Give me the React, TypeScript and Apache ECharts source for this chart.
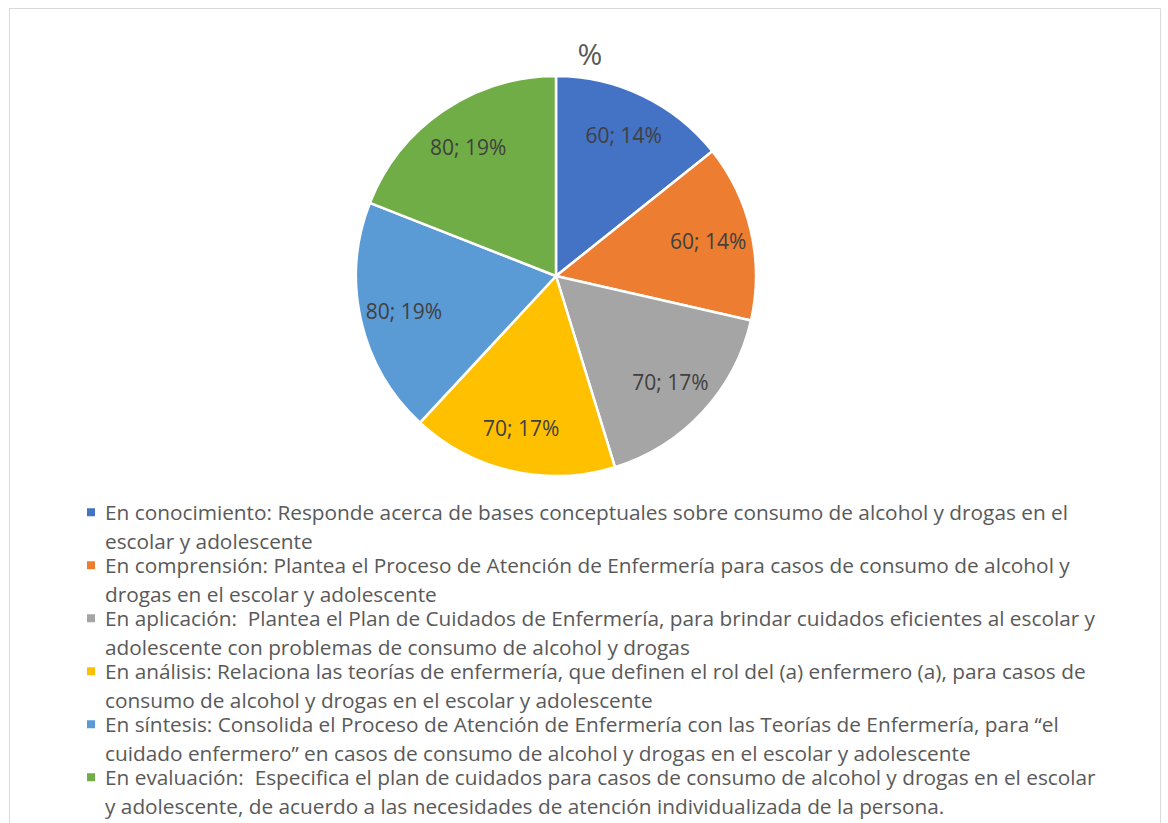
import React, { useEffect, useRef } from "react";
import * as echarts from "echarts";

const categories = [
  "En conocimiento: Responde acerca de bases conceptuales sobre consumo de alcohol y drogas en el escolar y adolescente",
  "En comprensión: Plantea el Proceso de Atención de Enfermería para casos de consumo de alcohol y drogas en el escolar y adolescente",
  "En aplicación:  Plantea el Plan de Cuidados de Enfermería, para brindar cuidados eficientes al escolar y adolescente con problemas de consumo de alcohol y drogas",
  "En análisis: Relaciona las teorías de enfermería, que definen el rol del (a) enfermero (a), para casos de consumo de alcohol y drogas en el escolar y adolescente",
  "En síntesis: Consolida el Proceso de Atención de Enfermería con las Teorías de Enfermería, para “el cuidado enfermero” en casos de consumo de alcohol y drogas en el escolar y adolescente",
  "En evaluación:  Especifica el plan de cuidados para casos de consumo de alcohol y drogas en el escolar y adolescente, de acuerdo a las necesidades de atención individualizada de la persona.",
];
// where each legend entry wraps onto its second line
const legendLine1 = [
  "En conocimiento: Responde acerca de bases conceptuales sobre consumo de alcohol y drogas en el",
  "En comprensión: Plantea el Proceso de Atención de Enfermería para casos de consumo de alcohol y",
  "En aplicación:  Plantea el Plan de Cuidados de Enfermería, para brindar cuidados eficientes al escolar y",
  "En análisis: Relaciona las teorías de enfermería, que definen el rol del (a) enfermero (a), para casos de",
  "En síntesis: Consolida el Proceso de Atención de Enfermería con las Teorías de Enfermería, para “el",
  "En evaluación:  Especifica el plan de cuidados para casos de consumo de alcohol y drogas en el escolar",
];
const values = [60, 60, 70, 70, 80, 80];
const colors = ["#4472C4", "#ED7D31", "#A5A5A5", "#FFC000", "#5B9BD5", "#70AD47"];
const title = "%";

const FONT = "'Open Sans', sans-serif";

export default function App() {
  const ref = useRef<HTMLDivElement>(null);
  useEffect(() => {
    if (!ref.current) return;
    const chart = echarts.init(ref.current, undefined, { renderer: "svg" });
    const data = categories.map((name, i) => ({ name, value: values[i] }));
    const lh = 28.5;
    const iconH = lh + 8;
    chart.setOption({
      animation: false,
      color: colors,
      title: {
        text: title,
        left: 585,
        top: 33,
        textAlign: "center",
        textStyle: { fontFamily: FONT, fontSize: 30, fontWeight: "normal", color: "#595959" },
      },
      legend: {
        orient: "vertical",
        left: 87,
        top: 498,
        padding: 0,
        itemGap: -4,
        itemWidth: 8,
        itemHeight: iconH,
        icon: `path://M0,0h8v8h-8z M0,${iconH}L0,${iconH}`,
        itemStyle: { borderWidth: 0 },
        selectedMode: false,
        data: categories,
        formatter: (name: string) => {
          const i = categories.indexOf(name);
          const l1 = legendLine1[i];
          const l2 = name.slice(l1.length).trim();
          return l1 + "\n" + l2;
        },
        textStyle: {
          fontFamily: FONT,
          fontSize: 20.8,
          color: "#595959",
          lineHeight: lh,
          padding: [0, 0, 0, 5],
        },
      },
      graphic: [
        {
          type: "rect",
          shape: { x: 9.5, y: 8.5, width: 1151, height: 900 },
          style: { fill: "none", stroke: "#d9d9d9", lineWidth: 1 },
          silent: true,
          z: -10,
        },
      ],
      series: [
        {
          type: "pie",
          center: [556, 276],
          radius: [0, 200],
          startAngle: 90,
          clockwise: true,
          label: { show: false },
          labelLine: { show: false },
          itemStyle: { borderColor: "#ffffff", borderWidth: 2.5 },
          emphasis: { disabled: true },
          data,
        },
        {
          type: "pie",
          center: [556, 276],
          radius: [106, 200],
          startAngle: 90,
          clockwise: true,
          silent: true,
          percentPrecision: 0,
          itemStyle: { color: "rgba(0,0,0,0)" },
          label: {
            show: true,
            position: "inside",
            formatter: "{c}; {d}%",
            fontFamily: FONT,
            fontSize: 21,
            color: "#404040",
          },
          labelLine: { show: false },
          emphasis: { disabled: true },
          data,
        },
      ],
    });
    return () => chart.dispose();
  }, []);
  return (
    <div
      ref={ref}
      style={{ position: "fixed", left: 0, top: 0, width: 1168, height: 900, background: "#fff" }}
    />
  );
}
